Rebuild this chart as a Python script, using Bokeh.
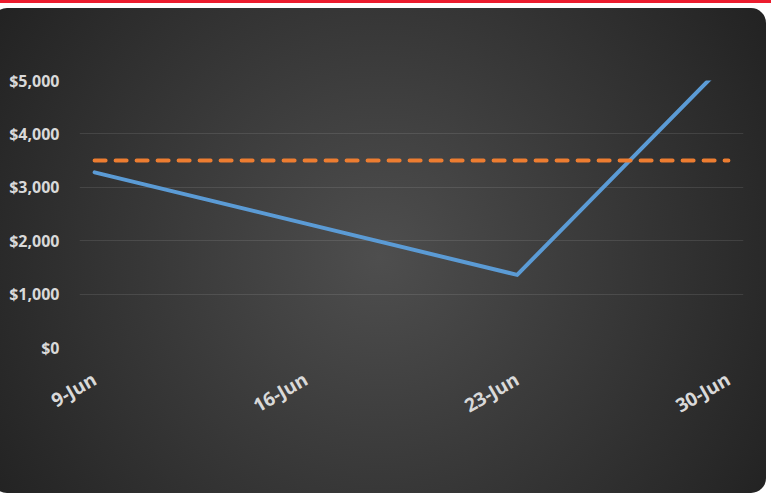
import math
import datetime as dt
from bokeh.plotting import figure
from bokeh.models import (Range1d, FixedTicker, NumeralTickFormatter, Label, Legend,
                          LegendItem, Div, ColumnDataSource)
from bokeh.layouts import column
from bokeh.embed import file_html
from bokeh.resources import INLINE

# ---- data ----
week_dates = ["2024-06-09", "2024-06-16", "2024-06-23", "2024-06-30"]
week_labels = ["9-Jun", "16-Jun", "23-Jun", "30-Jun"]
inflow = [3280, 2320, 1360, 5380]
need = [3500, 3500, 3500, 3500]
y_ticks = [0, 1000, 2000, 3000, 4000, 5000]
title_text = "BUMC Weekly 2024"

FONT = "Open Sans"
TXT = "#d9d9d9"

d0 = dt.date.fromisoformat(week_dates[0])
days = [(dt.date.fromisoformat(d) - d0).days for d in week_dates]

src = ColumnDataSource(dict(x=days, inflow=inflow, need=need))

p = figure(width=774, height=485, output_backend="svg", toolbar_location=None,
           x_range=Range1d(days[0] - 0.5, days[-1] + 0.5),
           y_range=Range1d(y_ticks[0], y_ticks[-1]),
           min_border_left=87, min_border_right=23,
           min_border_top=72, min_border_bottom=146)

p.border_fill_color = None
p.background_fill_color = None
p.outline_line_color = None
p.styles = {
    "background": "radial-gradient(circle at 388px 249px, #4e4e4e 0px, #222222 460px)",
    "border-radius": "15px",
}

# grid
p.xgrid.visible = False
p.ygrid.grid_line_color = "#ffffff"
p.ygrid.grid_line_alpha = 0.1
p.ygrid.grid_line_width = 1
p.ygrid.ticker = FixedTicker(ticks=y_ticks)

# y axis
p.yaxis.ticker = FixedTicker(ticks=y_ticks)
p.yaxis.formatter = NumeralTickFormatter(format="$0,0")
p.yaxis.axis_line_color = None
p.yaxis.major_tick_line_color = None
p.yaxis.minor_tick_line_color = None
p.yaxis.major_tick_out = 0
p.yaxis.major_label_standoff = 20
p.yaxis.major_label_text_font = FONT
p.yaxis.major_label_text_font_style = "bold"
p.yaxis.major_label_text_font_size = "16px"
p.yaxis.major_label_text_color = TXT

# x axis
p.xaxis.ticker = FixedTicker(ticks=days)
p.xaxis.major_label_overrides = {d: lab for d, lab in zip(days, week_labels)}
p.xaxis.axis_line_color = None
p.xaxis.major_tick_line_color = None
p.xaxis.minor_tick_line_color = None
p.xaxis.major_tick_out = 0
p.xaxis.major_label_standoff = 30
p.xaxis.major_label_orientation = math.radians(30)
p.xaxis.major_label_text_font = FONT
p.xaxis.major_label_text_font_style = "bold"
p.xaxis.major_label_text_font_size = "19px"
p.xaxis.major_label_text_color = TXT

# lines
r_in = p.line("x", "inflow", source=src, line_color="#5b9bd5", line_width=4,
              line_cap="round", line_join="round")
r_need = p.line("x", "need", source=src, line_color="#ed7d31", line_width=4,
                line_dash="11 10", line_cap="round")

# title
p.add_layout(Label(x=days[0] - 0.5, y=y_ticks[-1], x_offset=301, y_offset=40,
                   text=title_text, text_align="center", text_baseline="middle",
                   text_font=FONT, text_font_style="bold", text_font_size="24px",
                   text_color="#f2f2f2"))

# legend
legend = Legend(items=[LegendItem(label="Inflow", renderers=[r_in]),
                       LegendItem(label="Need", renderers=[r_need])],
                orientation="horizontal", location=(166, -125),
                padding=0, margin=0, spacing=22, label_standoff=4,
                glyph_width=50, glyph_height=20,
                border_line_color=None, background_fill_color=None,
                label_text_font=FONT, label_text_font_style="bold",
                label_text_font_size="26px", label_text_color=TXT)
p.add_layout(legend, "center")

top = Div(width=774, height=6, styles={"background-color": "#ec1c2e"})
bottom = Div(width=774, height=3, styles={"background-color": "#ec1c2e"})
page = column(top, p, bottom, width=774, spacing=0,
              styles={"margin": "-8px", "background-color": "#ffffff"})

open("out.html", "w").write(file_html(page, INLINE))
